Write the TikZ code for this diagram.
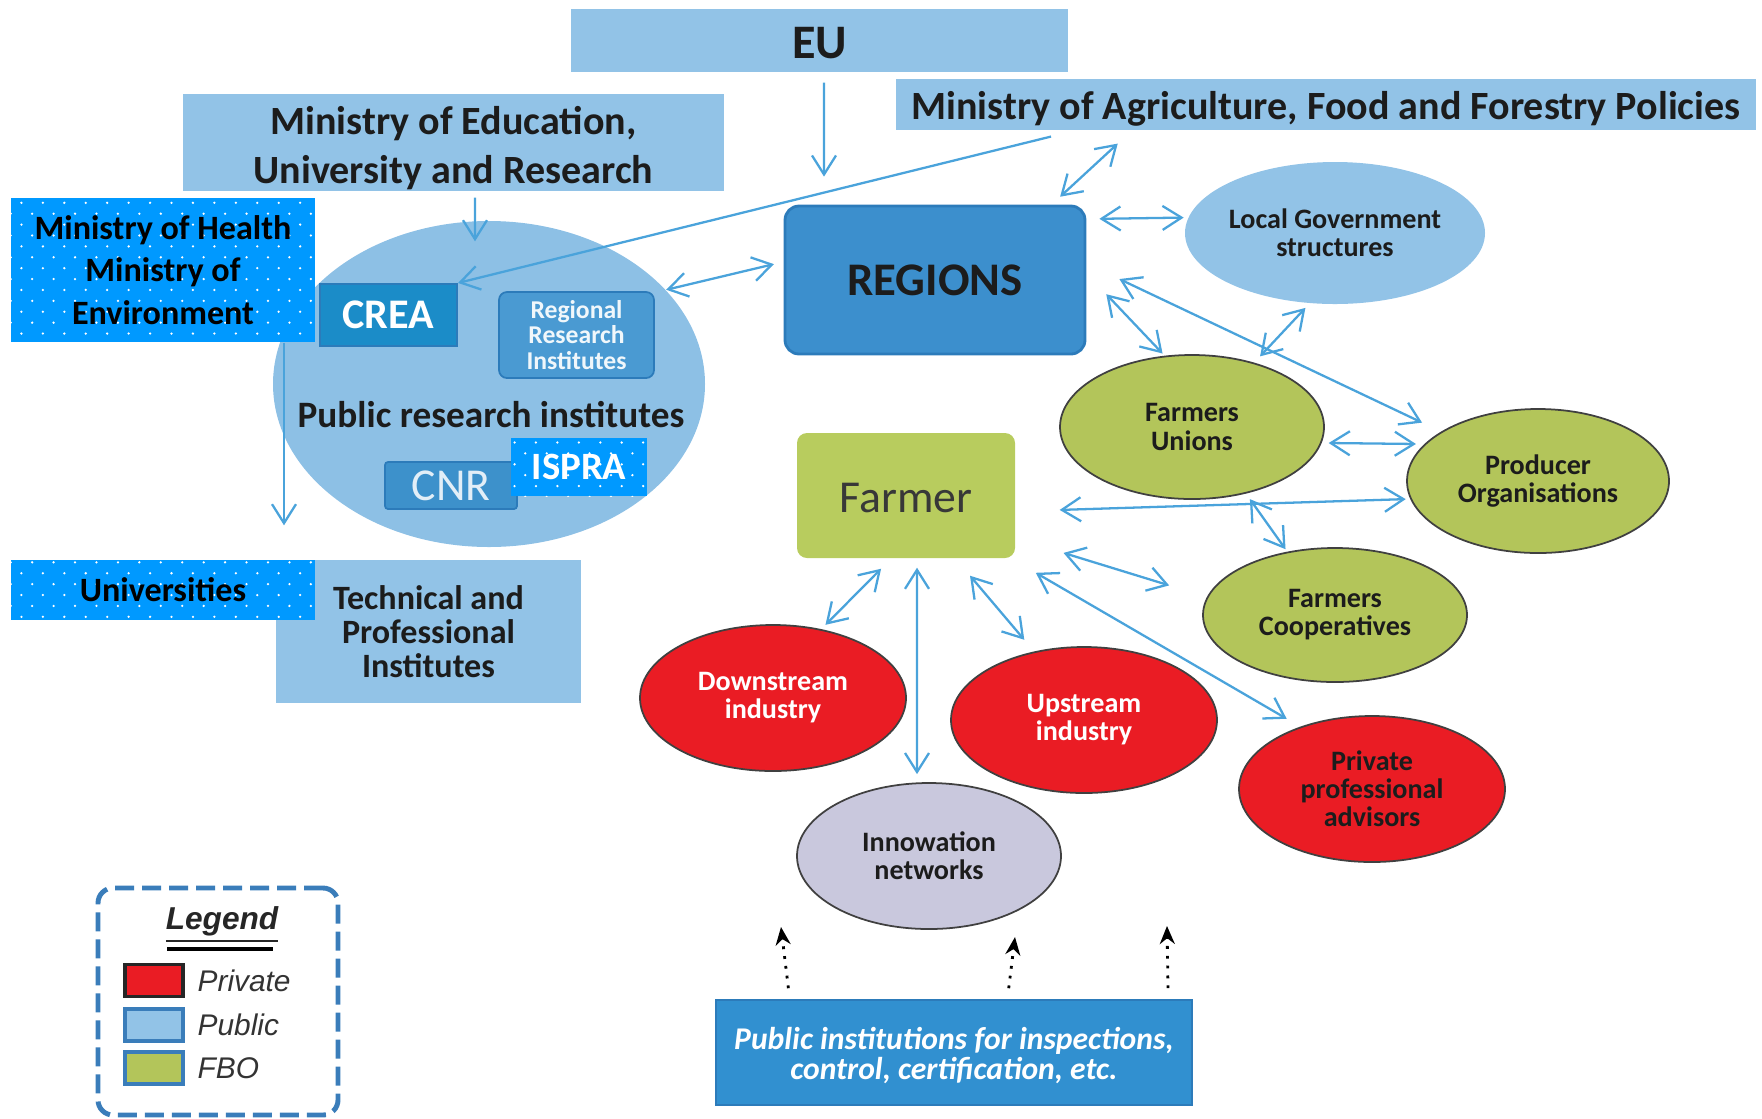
\documentclass[tikz,border=0pt]{standalone}
\usepackage{fontspec}
\setmainfont{Carlito}
\newfontfamily\legendfont{Liberation Sans}
\usepackage{tikz}
\usetikzlibrary{arrows.meta,positioning,shapes.geometric,patterns}

\definecolor{pubblue}{HTML}{92C3E7}
\definecolor{ellblue}{HTML}{8DC0E5}
\definecolor{regblue}{HTML}{3C8FCD}
\definecolor{regline}{HTML}{2C7BBA}
\definecolor{creablue}{HTML}{1B8CC8}
\definecolor{rriblue}{HTML}{4A9AD2}
\definecolor{cnrblue}{HTML}{3D91CB}
\definecolor{dotblue}{HTML}{0099FF}
\definecolor{fbogreen}{HTML}{B3C55A}
\definecolor{farmgreen}{HTML}{B8CC5E}
\definecolor{privred}{HTML}{EA1C24}
\definecolor{lavender}{HTML}{C9C8DD}
\definecolor{instblue}{HTML}{3190D0}
\definecolor{arrblue}{HTML}{4AA3DB}
\definecolor{legline}{HTML}{3A7DBA}
\definecolor{darktext}{HTML}{1C1C1C}

\pgfdeclarepatternformonly{sparsedots}{\pgfqpoint{-1pt}{-1pt}}{\pgfqpoint{4pt}{4.1pt}}{\pgfqpoint{6.1pt}{6.2pt}}{%
  \pgfpathcircle{\pgfqpoint{0pt}{0pt}}{0.36pt}%
  \pgfpathcircle{\pgfqpoint{3.05pt}{3.1pt}}{0.36pt}%
  \pgfusepath{fill}}

\begin{document}
\begin{tikzpicture}[x=0.1mm, y=-0.1mm, >={Straight Barb[length=1.9mm,width=2.4mm]},
  pubbox/.style={rectangle, fill=pubblue, inner sep=0pt, align=center, text=darktext},
  dotbox/.style={rectangle, preaction={fill=dotblue}, pattern=sparsedots, pattern color=white, inner sep=0pt, align=center},
  blob/.style={ellipse, inner sep=0pt, align=center, draw=black!75, line width=0.5pt, font=\fontsize{8}{8}\selectfont\bfseries},
  fbo/.style={blob, fill=fbogreen, text=darktext},
  priv/.style={blob, fill=privred, text=white, minimum width=26.6mm, minimum height=14.6mm},
  link/.style={<->, color=arrblue, line width=0.65pt},
  hint/.style={->, >={Stealth[length=1.8mm,width=1.5mm]}, dotted, line width=0.8pt, black},
  swatch/.style={rectangle, minimum width=5.8mm, minimum height=3.2mm, inner sep=0pt, line width=1.1pt},
  legtext/.style={inner sep=0pt, font=\legendfont\itshape\fontsize{8.5}{10}\selectfont, text=black!80}
]
\useasboundingbox (0,0) rectangle (1762,1118);

% ministries
\node (eu) [pubbox, minimum width=49.7mm, minimum height=6.3mm, text height=10.1pt, text depth=0pt, font=\fontsize{13.7}{16}\selectfont\bfseries] at (819.5,40.5) {EU};
\node (minagri) [pubbox, minimum width=86mm, minimum height=5.1mm, text height=8.7pt, text depth=0pt, font=\fontsize{11.4}{14}\selectfont\bfseries] at (1326,104.5) {Ministry of Agriculture, Food and Forestry Policies};
\node (minedu) [pubbox, minimum width=54.1mm, minimum height=9.7mm, text height=23.4pt, text depth=0pt, font=\fontsize{11.4}{14}\selectfont\bfseries] at (453.5,142.5) {Ministry of Education,\\University and Research};

% research side
\node (pri) [ellipse, fill=ellblue, minimum width=43.2mm, minimum height=32.6mm, inner sep=0pt] at (489,384) {};
\node (pritxt) [font=\fontsize{10.6}{12}\selectfont\bfseries, text=darktext, inner sep=0pt] at (491,415) {Public research institutes};
\node (crea) [rectangle, fill=creablue, draw=regline, line width=0.6pt, minimum width=13.7mm, minimum height=6.2mm, text=white, font=\fontsize{12}{14}\selectfont\bfseries] at (388.5,315) {CREA};
\node (rri) [rectangle, rounded corners=0.8mm, fill=rriblue, draw=regline, line width=0.5pt, minimum width=15.5mm, minimum height=8.6mm, inner sep=0pt, align=center, text=white!92!rriblue, font=\fontsize{7.3}{7.2}\selectfont\bfseries] at (576.5,335) {Regional\\Research\\Institutes};
\node (cnr) [rectangle, rounded corners=0.3mm, fill=cnrblue, draw=regline, line width=0.5pt, minimum width=13.2mm, minimum height=4.7mm, inner sep=0pt, text=white!85!cnrblue, font=\fontsize{13}{15}\selectfont] at (451,485.5) {CNR};
\node (ispra) [dotbox, minimum width=13.6mm, minimum height=5.8mm, text=white, font=\fontsize{11}{13}\selectfont\bfseries] at (579,467) {ISPRA};
\node (minhealth) [dotbox, minimum width=30.4mm, minimum height=14.4mm, text=black, font=\fontsize{9.7}{12}\selectfont\bfseries] at (163,270) {Ministry of Health\\Ministry of\\Environment};
\node (tech) [pubbox, minimum width=30.5mm, minimum height=14.3mm, font=\fontsize{9.7}{9.6}\selectfont\bfseries] at (428.5,631.5) {Technical and\\Professional\\Institutes};
\node (univ) [dotbox, minimum width=30.4mm, minimum height=6mm, text=black, font=\fontsize{9.7}{12}\selectfont\bfseries] at (163,590) {Universities};

% regions and farmers
\node (regions) [rectangle, rounded corners=1.4mm, fill=regblue, draw=regline, line width=0.8pt, minimum width=30mm, minimum height=14.8mm, text=darktext, font=\fontsize{13.3}{15}\selectfont\bfseries] at (935,280) {REGIONS};
\node (localgov) [blob, fill=pubblue, draw=none, minimum width=26.2mm, minimum height=14.2mm, text=darktext] at (1335,233) {Local Government\\structures};
\node (funions) [fbo, minimum width=26.4mm, minimum height=14.4mm] at (1192,427) {Farmers\\Unions};
\node (prodorg) [fbo, minimum width=26.2mm, minimum height=14.4mm] at (1538,481) {Producer\\Organisations};
\node (fcoop) [fbo, minimum width=26.4mm, minimum height=13.4mm] at (1335,615) {Farmers\\Cooperatives};
\node (farmer) [rectangle, rounded corners=1mm, fill=farmgreen, minimum width=21.8mm, minimum height=12.5mm, text height=9.6pt, text depth=0pt, text=black!78, font=\fontsize{13}{15}\selectfont] at (906,495.5) {Farmer};
\node (downstream) [priv] at (773,698) {Downstream\\industry};
\node (upstream) [priv] at (1084,720) {Upstream\\industry};
\node (privadv) [priv, text=darktext] at (1372,789) {Private\\professional\\advisors};
\node (innov) [blob, fill=lavender, minimum width=26.4mm, minimum height=14.6mm, text=darktext] at (929,856) {Innowation\\networks};
\node (pubinst) [rectangle, fill=instblue, draw=regline, line width=0.5pt, minimum width=47.6mm, minimum height=10.5mm, align=center, text height=15.6pt, text depth=0pt, text=white, font=\fontsize{9}{8.6}\selectfont\bfseries\itshape] at (954,1052.5) {Public institutions for inspections,\\control, certification, etc.};

% legend
\node (legend) [rectangle, draw=legline, line width=1.4pt, dash pattern=on 1.9mm off 0.8mm, rounded corners=1.5mm, minimum width=24mm, minimum height=22.7mm] at (218,1001.5) {};
\node (legtitle) [font=\legendfont\bfseries\itshape\fontsize{9}{11}\selectfont, text=black!85, inner sep=0pt] at (222,925) {\underline{Legend}};
\draw [line width=1pt] (167,949) -- (273,949);
\node (swpriv) [swatch, fill=privred, draw=black!85] at (154,980.5) {};
\node (swpub) [swatch, fill=pubblue, draw=legline] at (154,1025) {};
\node (swfbo) [swatch, fill=fbogreen, draw=legline] at (154,1068) {};
\node (lpriv) [legtext, right=1.2mm of swpriv] {Private};
\node (lpub) [legtext, right=1.2mm of swpub] {Public};
\node (lfbo) [legtext, right=1.2mm of swfbo] {FBO};

\path [link]
  ([xshift=0.45mm]eu.south) edge [->, shorten <=1mm, shorten >=2.8mm] ([xshift=-11.1mm]regions.north)
  ([xshift=2.15mm]minedu.south) edge [->, shorten <=0.6mm, shorten >=-2.1mm] ([xshift=-1.4mm]pri.north)
  ([xshift=-25.13mm]minagri.south) edge [->, shorten <=2.44mm] (crea.north east)
  ([xshift=12.1mm]minhealth.south) edge [->, shorten >=3.4mm] ([xshift=12.1mm]univ.north)
  ([xshift=-19.43mm]minagri.south) edge [shorten <=1.9mm, shorten >=1.16mm] ([xshift=11.66mm]regions.north)
  ([yshift=1.82mm]regions.west) edge [shorten <=1mm] (pri.28.5)
  ([yshift=6.1mm]regions.east) edge [shorten <=1.3mm, shorten >=0.4mm] (localgov.174)
  ([yshift=0.67mm]regions.east) edge [shorten <=2.88mm, shorten >=0.3mm] (funions.111.7)
  ([yshift=1.66mm]regions.east) edge [shorten <=3.65mm, shorten >=2.1mm] (prodorg.153.4)
  (funions.46.3) edge [shorten <=0.86mm, shorten >=0.56mm] (localgov.250.9)
  (funions.353.3) edge [shorten <=0.7mm, shorten >=0.84mm] (prodorg.162.7)
  ([yshift=-1.58mm]farmer.east) edge [shorten <=4.4mm, shorten >=0.45mm] (prodorg.188.3)
  (funions.309.2) edge [shorten <=0.68mm, shorten >=0.3mm] (fcoop.127)
  ([yshift=-4.27mm]farmer.east) edge [shorten <=5mm, shorten >=3.95mm] (fcoop.172.5)
  ([xshift=10.56mm]farmer.south) edge [shorten <=2.8mm, shorten >=1.57mm] (privadv.139.1)
  ([xshift=-1.5mm]farmer.south) edge [shorten <=1.41mm, shorten >=0.6mm] (downstream.55.1)
  ([xshift=1.1mm]farmer.south) edge [shorten <=0.9mm, shorten >=0.8mm] ([xshift=-1.2mm]innov.north)
  ([xshift=4.96mm]farmer.south) edge [shorten <=2.23mm, shorten >=1.53mm] (upstream.126.4);

\coordinate (dotl) at (781,927);
\coordinate (dotm) at (1015,937);
\coordinate (dotr) at (1167,926);
\path [hint]
  (pubinst.162) edge [shorten <=1.1mm] (dotl)
  (pubinst.45.3) edge [shorten <=1.1mm] (dotm)
  (pubinst.14.5) edge [shorten <=1.1mm] (dotr);
\end{tikzpicture}
\end{document}
